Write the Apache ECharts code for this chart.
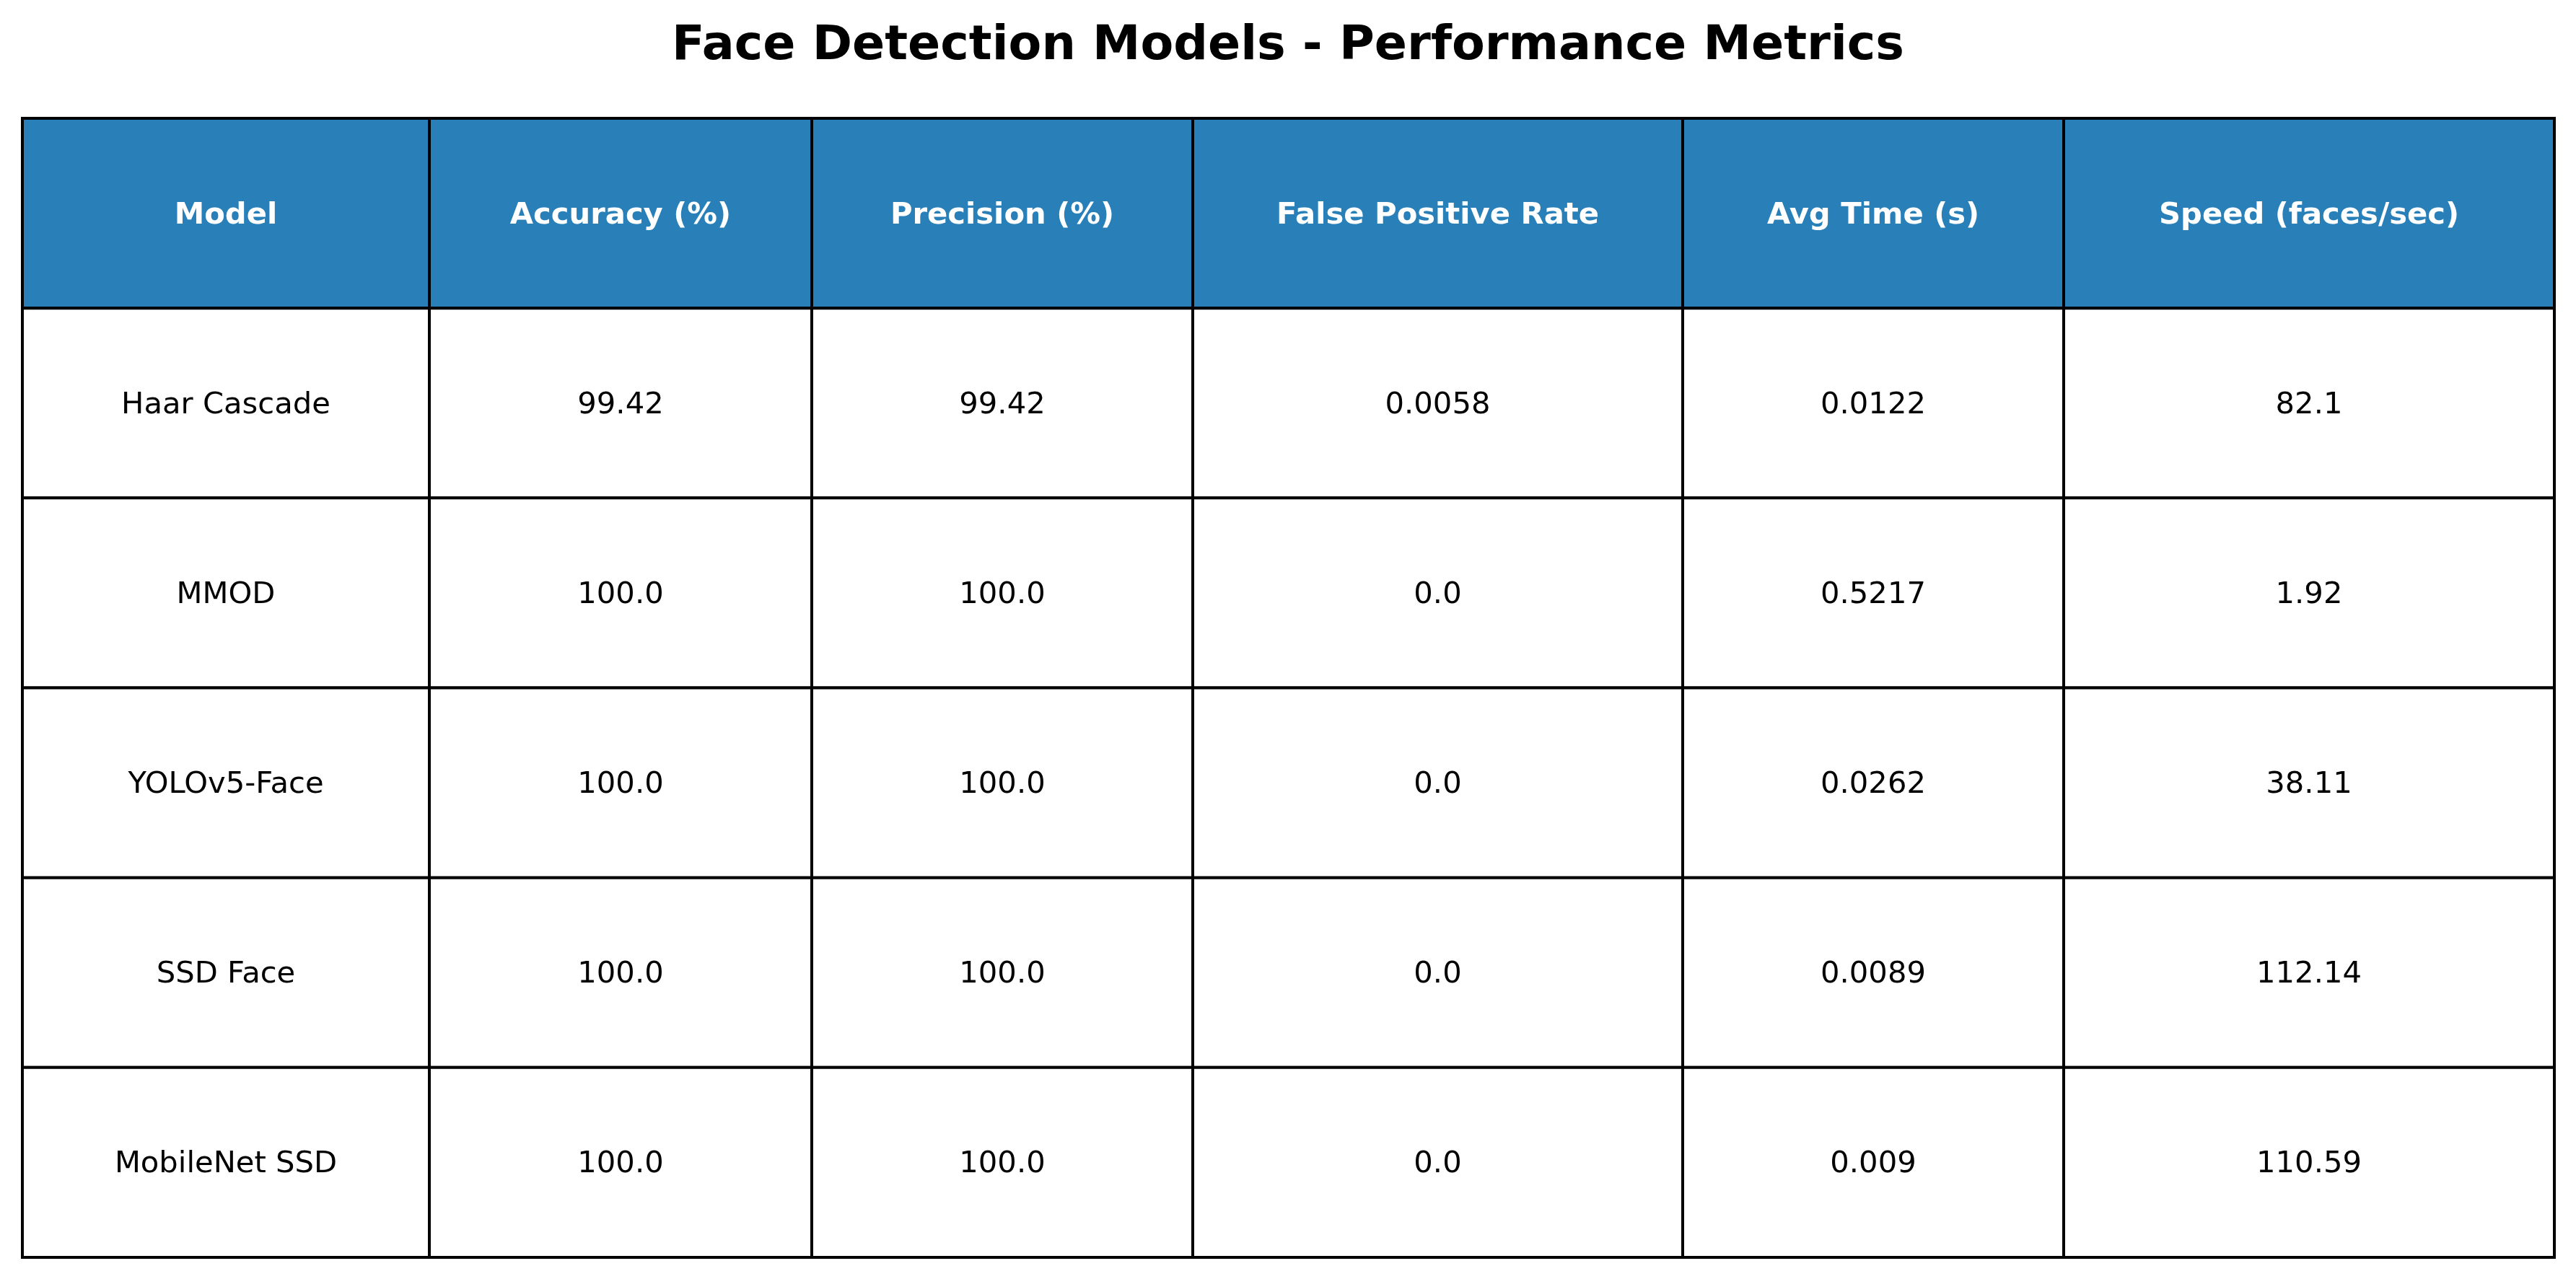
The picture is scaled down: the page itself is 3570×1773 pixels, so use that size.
<!doctype html>
<html lang="en">
<head>
    <meta charset="UTF-8">
    <title>Face Detection Models - Performance Metrics</title>
    <style>
        *{margin: 0; padding: 0}
        html, body {background: #fff}
    </style>
</head>
<body>
<div id="block"></div>

<script src="https://cdn.jsdelivr.net/npm/echarts@6/dist/echarts.min.js"></script>
<script>
    // table data
    const headers = ['Model', 'Accuracy (%)', 'Precision (%)', 'False Positive Rate', 'Avg Time (s)', 'Speed (faces/sec)'];
    const models = ['Haar Cascade', 'MMOD', 'YOLOv5-Face', 'SSD Face', 'MobileNet SSD'];
    const accuracy = ['99.42', '100.0', '100.0', '100.0', '100.0'];
    const precision = ['99.42', '100.0', '100.0', '100.0', '100.0'];
    const falsePositiveRate = ['0.0058', '0.0', '0.0', '0.0', '0.0'];
    const avgTime = ['0.0122', '0.5217', '0.0262', '0.0089', '0.009'];
    const speed = ['82.1', '1.92', '38.11', '112.14', '110.59'];
</script>
<script>
    // layout
    const colWidths = [564, 530, 528, 679, 528, 680];   // px, auto-sized like the original
    const FONT = '"DejaVu Sans", "Liberation Sans", sans-serif';
    const HEAD_BG = '#2980b9';

    const block = document.getElementById('block');
    block.style.width = '3570px'; block.style.height = '1773px';
    const chart = echarts.init(block, null, {renderer: 'canvas'});

    const columns = [models, accuracy, precision, falsePositiveRate, avgTime, speed];
    const rowNames = ['header'].concat(models);

    // cell items: [xStart, xEnd, rowIndex, text, isHeader]
    let cells = [];
    let x = 0;
    for (let c = 0; c < colWidths.length; c++) {
        cells.push([x, x + colWidths[c], 0, headers[c], 1]);
        for (let r = 0; r < models.length; r++) {
            cells.push([x, x + colWidths[c], r + 1, columns[c][r], 0]);
        }
        x += colWidths[c];
    }
    const totalWidth = x;

    const renderCell = function(params, api) {
        const p0 = api.coord([api.value(0), api.value(2)]);
        const p1 = api.coord([api.value(1), api.value(2)]);
        const h = api.size([0, 1])[1];
        const isHead = api.value(4) === 1;
        const rect = {x: p0[0], y: p0[1] - h / 2, width: p1[0] - p0[0], height: h};
        return {
            type: 'group',
            children: [{
                type: 'rect',
                shape: rect,
                style: {fill: isHead ? HEAD_BG : '#ffffff', stroke: '#000', lineWidth: 4}
            }, {
                type: 'text',
                x: rect.x + rect.width / 2,
                y: p0[1] + (isHead ? 4 : 3),
                style: {
                    text: cells[params.dataIndex][3],
                    fill: isHead ? '#ffffff' : '#000000',
                    font: (isHead ? 'bold ' : '') + '41.7px ' + FONT,
                    align: 'center',
                    verticalAlign: 'middle'
                }
            }]
        };
    };

    let option = {
        backgroundColor: '#ffffff',
        animation: false,
        title: {
            text: 'Face Detection Models - Performance Metrics',
            left: 'center',
            top: 31,
            padding: 0,
            textStyle: {fontFamily: FONT, fontWeight: 'bold', fontSize: 66.7, color: '#000'}
        },
        grid: {left: 31, top: 164, width: totalWidth, height: 1579},
        xAxis: {type: 'value', min: 0, max: totalWidth, show: false},
        yAxis: {type: 'category', data: rowNames, inverse: true, show: false},
        series: [{
            type: 'custom',
            renderItem: renderCell,
            encode: {x: [0, 1], y: 2},
            data: cells
        }]
    };
    chart.setOption(option);
</script>
</body>
</html>
